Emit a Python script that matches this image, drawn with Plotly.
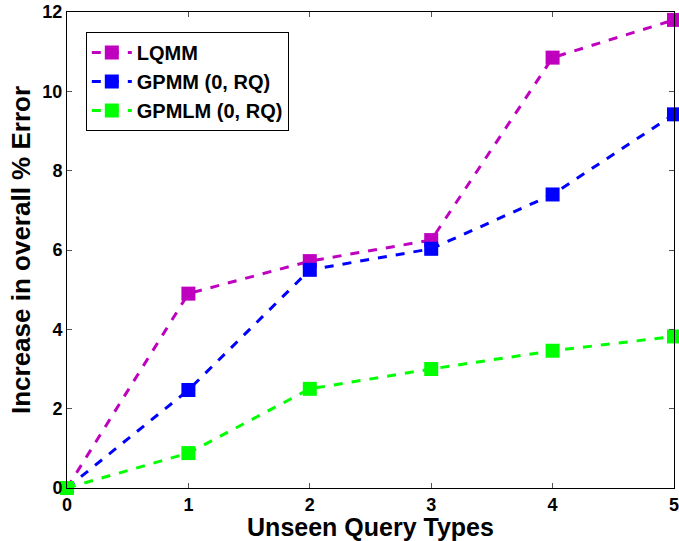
import plotly.graph_objects as go

x_vals = [0, 1, 2, 3, 4, 5]
x_ticks = ["0", "1", "2", "3", "4", "5"]
y_tickvals = [0, 2, 4, 6, 8, 10, 12]
lqmm = [0, 4.9, 5.72, 6.25, 10.85, 11.8]
gpmm = [0, 2.47, 5.5, 6.03, 7.4, 9.42]
gpmlm = [0, 0.88, 2.5, 3.0, 3.46, 3.82]
names = ["LQMM", "GPMM (0, RQ)", "GPMLM (0, RQ)"]
colors = ["#bf00bf", "#0000ff", "#00ff00"]

fig = go.Figure()
for name, ys, c in zip(names, [lqmm, gpmm, gpmlm], colors):
    fig.add_trace(go.Scatter(
        x=x_vals, y=ys, name="<b>" + name + "</b>", mode="lines+markers",
        line=dict(color=c, width=3, dash="dash"),
        marker=dict(symbol="square", size=14, color=c),
        cliponaxis=False,
    ))

fam = "Liberation Sans, Arial, sans-serif"
fig.update_layout(
    width=679, height=541,
    margin=dict(l=67, r=5, t=12, b=53),
    plot_bgcolor="white", paper_bgcolor="white",
    font=dict(family=fam, color="black"),
    showlegend=True,
    legend=dict(
        x=0.031, y=0.958, xanchor="left", yanchor="top",
        bgcolor="white", bordercolor="black", borderwidth=1,
        font=dict(size=20, family=fam, color="black"),
        tracegroupgap=0, itemsizing="trace", itemwidth=40,
    ),
)
fig.update_xaxes(
    range=[0, 5], tickvals=x_vals, ticktext=["<b>" + t + "</b>" for t in x_ticks],
    showgrid=False, zeroline=False, automargin=False, ticklabeloverflow="allow",
    showline=True, linecolor="black", linewidth=1, mirror="ticks",
    ticks="inside", ticklen=5, tickcolor="#555",
    tickfont=dict(size=18, family=fam, color="black"),
    title=dict(text="<b>Unseen Query Types</b>", font=dict(size=25), standoff=0),
)
fig.update_yaxes(
    range=[0, 12], tickvals=y_tickvals, ticktext=["<b>%d</b>" % v for v in y_tickvals],
    showgrid=False, zeroline=False, automargin=False, ticklabeloverflow="allow",
    showline=True, linecolor="black", linewidth=1, mirror="ticks",
    ticks="inside", ticklen=5, tickcolor="#555",
    tickfont=dict(size=18, family=fam, color="black"),
    title=dict(text="<b>Increase in overall % Error</b>", font=dict(size=26), standoff=4),
)
fig.write_html(
    "out.html",
    config={"displayModeBar": False},
    post_script="document.body.style.margin='0px';document.body.style.overflow='hidden';",
)
